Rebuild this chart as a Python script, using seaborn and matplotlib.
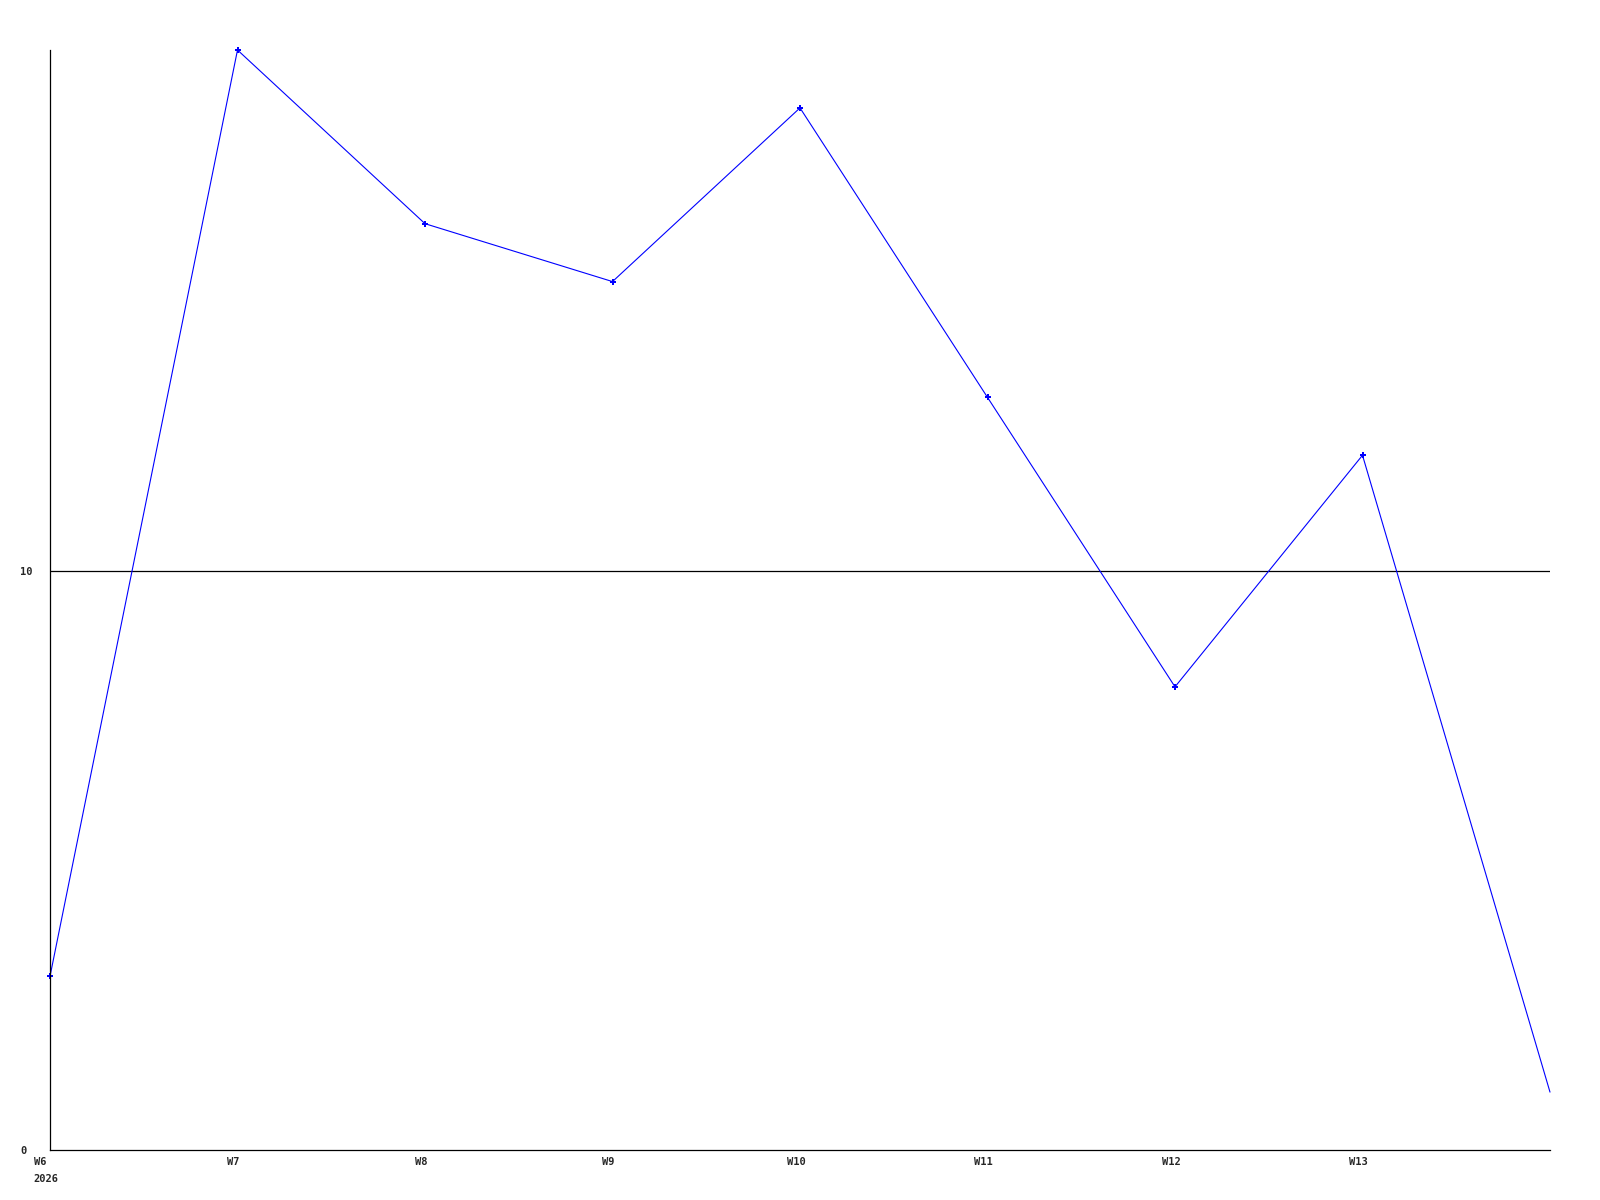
import matplotlib
matplotlib.use("Agg")
import matplotlib.pyplot as plt
import matplotlib.transforms as mtransforms
import seaborn as sns
import pandas as pd

# weekly values
weeks = ["W6", "W7", "W8", "W9", "W10", "W11", "W12", "W13", "W14"]
values = [3, 19, 16, 15, 18, 13, 8, 12, 1]
tick_labels = ["W6\n2026", "W7", "W8", "W9", "W10", "W11", "W12", "W13"]

df = pd.DataFrame({"pos": range(len(weeks)), "week": weeks, "value": values})

sns.set_style("white")
plt.rcParams["font.family"] = ["DejaVu Sans Mono"]
plt.rcParams["font.weight"] = "bold"

fig = plt.figure(figsize=(16, 12), dpi=100)
ax = fig.add_axes([50 / 1600, 50 / 1200, 1500 / 1600, 1100 / 1200])

sns.lineplot(data=df, x="pos", y="value", ax=ax, color="#0000ff",
             linewidth=0.8, marker="P", markersize=4, markeredgewidth=0,
             markevery=list(range(len(weeks) - 1)), clip_on=False)

ax.axhline(10, color="black", linewidth=0.9, zorder=1)

ax.set_xlim(0, len(weeks) - 1)
ax.set_ylim(0, 19)
ax.set_xticks(range(len(tick_labels)))
ax.set_xticklabels(tick_labels, fontsize=7.5, fontweight="bold",
                   linespacing=1.9, va="top", ha="center",
                   multialignment="left")
ax.set_yticks([0, 10])
ax.set_yticklabels(["0", "10"], fontsize=7.5, fontweight="bold", ha="left")
ax.tick_params(axis="y", length=0, pad=21.6)
ax.tick_params(axis="x", length=0, pad=5)
ax.set_xlabel("")
ax.set_ylabel("")

# nudge week labels a few pixels left, as in the reference
shift = mtransforms.ScaledTranslation(-4 / 100, 0, fig.dpi_scale_trans)
for lbl in ax.get_xticklabels():
    lbl.set_transform(lbl.get_transform() + shift)

for side in ["top", "right"]:
    ax.spines[side].set_visible(False)
for side in ["left", "bottom"]:
    ax.spines[side].set_color("black")
    ax.spines[side].set_linewidth(0.9)

fig.savefig("out.png", dpi=100)
